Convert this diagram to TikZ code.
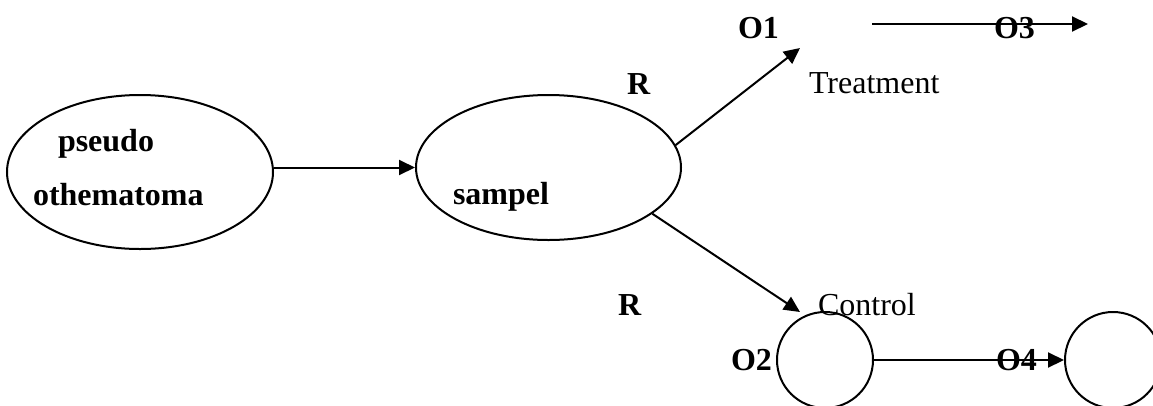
\documentclass[tikz,border=0pt]{standalone}
\usepackage{fontspec}
\setmainfont{Liberation Serif}
\usetikzlibrary{arrows.meta,shapes.geometric}
\begin{document}
\begin{tikzpicture}[x=1pt,y=-1pt,
  line width=2pt,
  oval/.style={draw,ellipse,inner sep=0pt},
  ring/.style={draw,circle,inner sep=0pt,minimum size=96pt},
  lbl/.style={inner sep=0pt,anchor=base west,font=\fontsize{32}{36}\selectfont\bfseries},
  plain/.style={inner sep=0pt,anchor=base west,font=\fontsize{32}{36}\selectfont},
  arr/.style={-{Triangle[length=16pt,width=15pt]}}]
\useasboundingbox (0,0) rectangle (1153,405);
\clip (0,0) rectangle (1153,405);

% population and sample
\node[oval,minimum width=266pt,minimum height=154pt] (pe) at (140,172) {};
\node[oval,minimum width=265pt,minimum height=145pt] (sa) at (548.5,167.5) {};
\node[lbl] (tpseudo) at (57,151) {pseudo};
\node[lbl] (tothem) at (32,205) {othematoma};
\node[lbl] (tsampel) at (452,204) {sampel};

% random assignment
\node[lbl] (r1) at (626,94) {R};
\node[lbl] (r2) at (617,315) {R};

% treatment group
\node[lbl] (o1) at (737,38) {O1};
\node[plain] (treat) at (808,93) {Treatment};
\node[lbl] (o3) at (993,38) {O3};
\coordinate (t1) at (800,48);
\coordinate (l3a) at (872,24);
\coordinate (l3b) at (1088,24);

% control group
\node[plain] (ctrl) at (817,315) {Control};
\node[ring] (c2) at (825,360) {};
\node[ring] (c4) at (1113,360) {};
\node[lbl] (o2) at (730,370) {O2};
\node[lbl] (o4) at (995,370) {O4};
\coordinate (t2) at (800,312);

% connectors
\draw[arr] (pe.east |- sa.west) -- (sa.west);
\draw[arr] (sa.10.5) -- (t1);
\draw[arr] (sa.-24) -- (t2);
\draw[arr] (l3a) -- (l3b);
\draw[arr] (c2.east) -- (c4.west);
\end{tikzpicture}
\end{document}
